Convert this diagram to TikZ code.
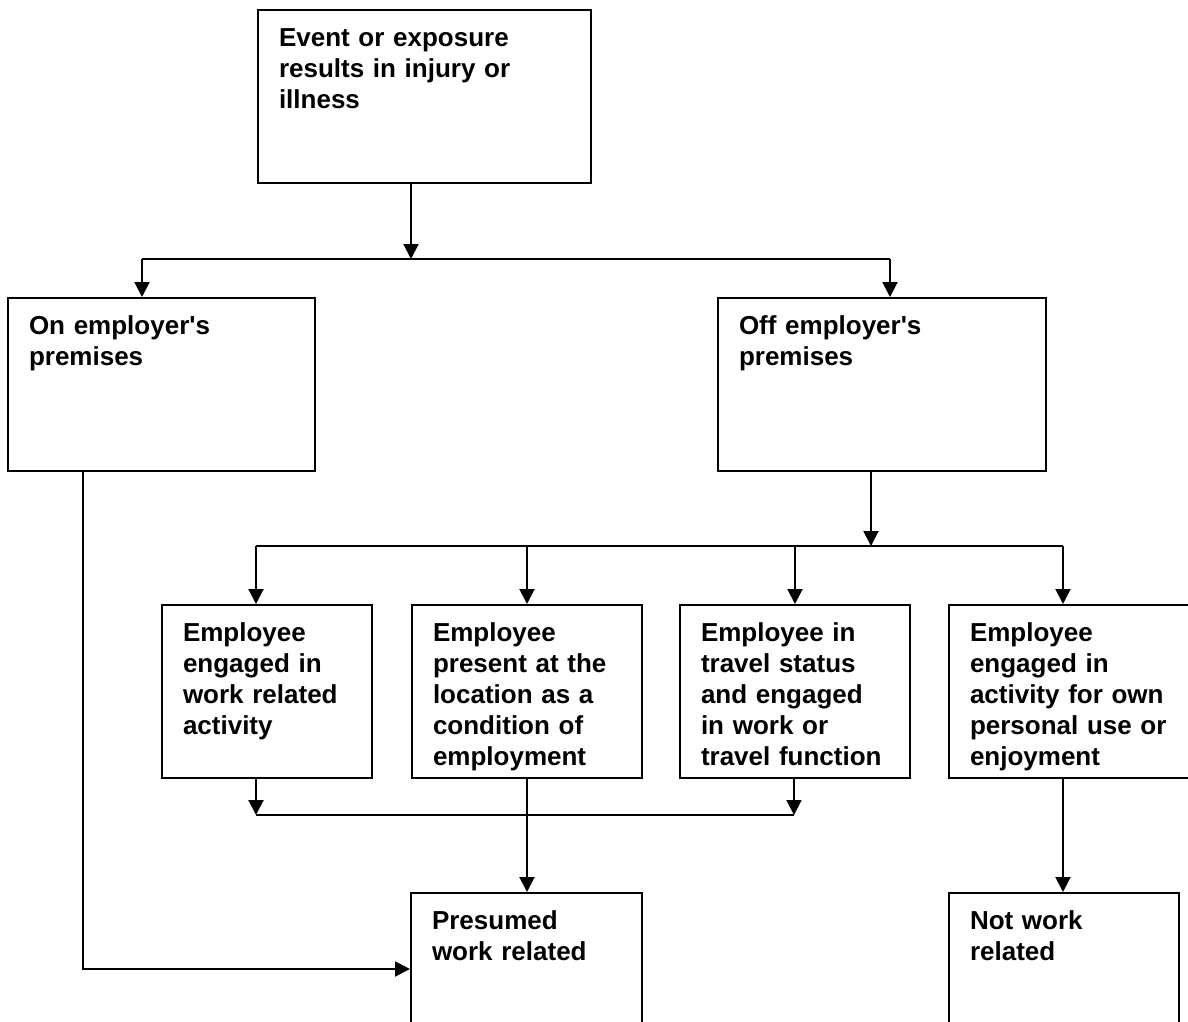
\documentclass[tikz,border=0pt]{standalone}
\usepackage{fontspec}
\setmainfont{Liberation Sans}
\usetikzlibrary{arrows.meta}

\begin{document}
\begin{tikzpicture}[
    x=1pt, y=-1pt,
    font=\fontsize{26}{31}\selectfont\bfseries,
    box/.style={draw, line width=2pt, anchor=north west, align=left,
        inner xsep=21pt, inner ysep=17pt, text height=19pt, text depth=120pt},
    openbox/.style={box, text depth=100pt},
    arrow/.style={-{Triangle[width=15pt,length=15pt]}, line width=2pt},
    link/.style={line width=2pt}
]
    \useasboundingbox (0,0) rectangle (1188,1021);

    % Event
    \node[box, text width=291pt] (event) at (257,9) {Event or exposure\\results in injury or\\illness};

    % Where it happened
    \node[box, text width=265pt] (on) at (7,297) {On employer\textquotesingle s\\premises};
    \node[box, text width=286pt] (off) at (717,297) {Off employer\textquotesingle s\\premises};

    \coordinate (split) at (411,259);
    \coordinate (toon) at (142,259);
    \coordinate (tooff) at (890,259);
    \draw[arrow] (split |- event.south) -- (split);
    \draw[link] (toon) -- (tooff);
    \draw[arrow] (toon) -- (toon |- on.north);
    \draw[arrow] (tooff) -- (tooff |- off.north);

    % What the employee was doing
    \node[box, text width=168pt] (work) at (161,604) {Employee\\engaged in\\work related\\activity};
    \node[box, text width=188pt] (cond) at (411,604) {Employee\\present at the\\location as a\\condition of\\employment};
    \node[box, text width=188pt] (travel) at (679,604) {Employee in\\travel status\\and engaged\\in work or\\travel function};
    \node[box, text width=218pt] (own) at (948,604) {Employee\\engaged in\\activity for own\\personal use or\\enjoyment};

    \coordinate (fork) at (871,546);
    \coordinate (f1) at (256,546);
    \coordinate (f4) at (1063,546);
    \draw[arrow] (fork |- off.south) -- (fork);
    \draw[link] (f1) -- (f4);
    \draw[arrow] (f1) -- (f1 |- work.north);
    \draw[arrow] (cond.north |- f1) -- (cond.north);
    \draw[arrow] (travel.north |- f1) -- (travel.north);
    \draw[arrow] (f4) -- (f4 |- own.north);

    % Outcome
    \node[openbox, text width=189pt] (pres) at (410,892) {Presumed\\work related};
    \node[openbox, text width=188pt] (notw) at (948,892) {Not work\\related};

    \coordinate (m1) at (256,815);
    \coordinate (m3) at (794,815);
    \coordinate (down) at (83,969);
    \draw[arrow] (m1 |- work.south) -- (m1);
    \draw[arrow] (m3 |- travel.south) -- (m3);
    \draw[link] (m1) -- (m3);
    \draw[arrow] (cond.south) -- (cond.south |- pres.north);
    \draw[arrow] (f4 |- own.south) -- (f4 |- notw.north);
    \draw[arrow] (down |- on.south) -- (down) -- (down -| pres.west);
\end{tikzpicture}
\end{document}
